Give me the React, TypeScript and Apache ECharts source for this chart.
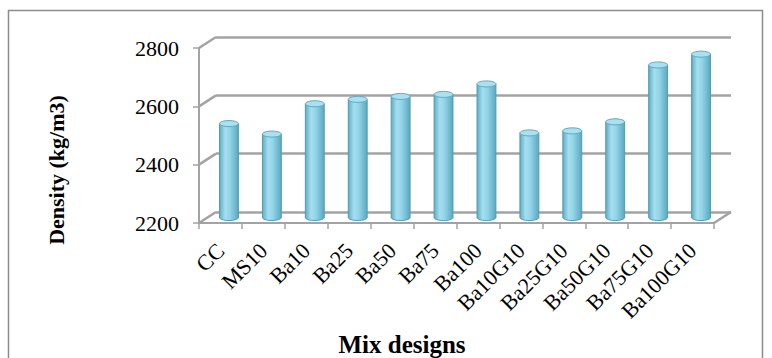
import React, { useEffect, useRef } from "react";
import * as echarts from "echarts";

// Mix designs and their measured densities (kg/m3)
const categories = [
  "CC", "MS10", "Ba10", "Ba25", "Ba50", "Ba75", "Ba100",
  "Ba10G10", "Ba25G10", "Ba50G10", "Ba75G10", "Ba100G10",
];
const densities = [2522, 2486, 2590, 2605, 2615, 2622, 2658, 2490, 2497, 2528, 2723, 2760];
const yTicks = [2200, 2400, 2600, 2800];
const Y_MIN = 2200;
const Y_MAX = 2800;
const Y_STEP = 200;

// Three parallel planes give the pseudo-3D box: back wall, bar depth, front edge
const BACK = { left: 216, top: 37, width: 515, height: 175 };
const FRONT = { left: 199, top: 48, width: 515, height: 175 };
const MID = {
  left: (BACK.left + FRONT.left) / 2,
  top: (BACK.top + FRONT.top) / 2,
  width: 515,
  height: 175,
};
const DX = FRONT.left - BACK.left;
const DY = FRONT.top - BACK.top;

const FONT = "Liberation Serif";
const FRAME = "#a3a3a3";

export default function App() {
  const ref = useRef<HTMLDivElement>(null);

  useEffect(() => {
    if (!ref.current) return;
    const chart = echarts.init(ref.current, undefined, { renderer: "svg" });

    const valueAxisBase = {
      type: "value" as const,
      min: Y_MIN,
      max: Y_MAX,
      interval: Y_STEP,
    };
    const catAxisBase = {
      type: "category" as const,
      data: categories,
      boundaryGap: true,
    };

    chart.setOption({
      animation: false,
      backgroundColor: "#ffffff",
      textStyle: { fontFamily: FONT },
      grid: [
        { ...BACK, containLabel: false },
        { ...MID, containLabel: false },
        { ...FRONT, containLabel: false },
      ],
      xAxis: [
        { ...catAxisBase, gridIndex: 0, show: false },
        { ...catAxisBase, gridIndex: 1, show: false },
        {
          ...catAxisBase,
          gridIndex: 2,
          axisLine: { show: true, lineStyle: { color: FRAME, width: 2 } },
          axisTick: { show: true, length: 6, lineStyle: { color: FRAME, width: 1.5 } },
          splitLine: { show: false },
          axisLabel: {
            interval: 0,
            rotate: 45,
            margin: 24,
            fontFamily: FONT,
            fontSize: 22,
            color: "#000",
          },
        },
      ],
      yAxis: [
        {
          ...valueAxisBase,
          gridIndex: 0,
          axisLine: { show: false },
          axisTick: { show: false },
          axisLabel: { show: false },
          splitLine: { show: true, lineStyle: { color: FRAME, width: 2.5 } },
        },
        {
          ...valueAxisBase,
          gridIndex: 1,
          show: false,
          splitLine: { show: false },
        },
        {
          ...valueAxisBase,
          gridIndex: 2,
          axisLine: { show: true, lineStyle: { color: FRAME, width: 2 } },
          axisTick: { show: true, length: 6, lineStyle: { color: FRAME, width: 1.5 } },
          splitLine: { show: false },
          axisLabel: {
            margin: 20,
            fontFamily: FONT,
            fontSize: 22,
            color: "#000",
            formatter: (v: number) => String(v),
          },
        },
      ],
      series: [
        {
          // side wall and floor edges joining the back wall to the front edge
          type: "custom",
          xAxisIndex: 0,
          yAxisIndex: 0,
          data: yTicks.map((v) => [0, v]),
          encode: { x: 0, y: 1 },
          silent: true,
          renderItem: (params: any, api: any) => {
            const v = api.value(1);
            const band = api.size([1, 0])[0];
            const p = api.coord([0, v]);
            const left = p[0] - band / 2;
            const children: any[] = [
              {
                type: "line",
                shape: { x1: left, y1: p[1], x2: left + DX, y2: p[1] + DY },
                style: { stroke: FRAME, lineWidth: 2.5 },
              },
            ];
            if (v === Y_MIN) {
              const pr = api.coord([categories.length - 1, v]);
              const right = pr[0] + band / 2;
              children.push({
                type: "line",
                shape: { x1: right, y1: pr[1], x2: right + DX, y2: pr[1] + DY },
                style: { stroke: FRAME, lineWidth: 2.5 },
              });
            }
            return { type: "group", children };
          },
          z: 1,
        },
        {
          // cylinders at mid depth
          type: "custom",
          xAxisIndex: 1,
          yAxisIndex: 1,
          data: densities.map((v, i) => [i, v]),
          encode: { x: 0, y: 1 },
          renderItem: (params: any, api: any) => {
            const i = api.value(0);
            const v = api.value(1);
            const top = api.coord([i, v]);
            const base = api.coord([i, Y_MIN]);
            const band = api.size([1, 0])[0];
            const rx = band * 0.22;
            const ry = rx * 0.32;
            const cx = top[0];
            const bodyFill = {
              type: "linear",
              x: 0, y: 0, x2: 1, y2: 0,
              colorStops: [
                { offset: 0, color: "#5eaec4" },
                { offset: 0.3, color: "#a6def0" },
                { offset: 0.55, color: "#93d4e8" },
                { offset: 1, color: "#5aa8bf" },
              ],
            };
            return {
              type: "group",
              children: [
                {
                  type: "ellipse",
                  shape: { cx, cy: base[1], rx, ry },
                  style: { fill: bodyFill, stroke: "#4f9db3", lineWidth: 1 },
                },
                {
                  type: "rect",
                  shape: { x: cx - rx, y: top[1], width: rx * 2, height: base[1] - top[1] },
                  style: { fill: bodyFill, stroke: "none" },
                },
                {
                  type: "line",
                  shape: { x1: cx - rx, y1: top[1], x2: cx - rx, y2: base[1] },
                  style: { stroke: "#4f9db3", lineWidth: 1 },
                },
                {
                  type: "line",
                  shape: { x1: cx + rx, y1: top[1], x2: cx + rx, y2: base[1] },
                  style: { stroke: "#4f9db3", lineWidth: 1 },
                },
                {
                  type: "ellipse",
                  shape: { cx, cy: top[1], rx, ry },
                  style: { fill: "#a9e1f0", stroke: "#5ea9be", lineWidth: 1 },
                },
              ],
            };
          },
          z: 3,
        },
      ],
      graphic: [
        {
          type: "rect",
          shape: { x: 8.5, y: 10.5, width: 754, height: 380 },
          style: { fill: "none", stroke: "#8c8c8c", lineWidth: 1.5 },
          silent: true,
        },
        {
          type: "text",
          x: 56,
          y: 170,
          rotation: Math.PI / 2,
          style: {
            text: "Density (kg/m3)",
            fontFamily: FONT,
            fontWeight: "bold",
            fontSize: 22,
            fill: "#000",
            align: "center",
            verticalAlign: "middle",
          },
        },
        {
          type: "text",
          x: 402,
          y: 344,
          style: {
            text: "Mix designs",
            fontFamily: FONT,
            fontWeight: "bold",
            fontSize: 25,
            fill: "#000",
            align: "center",
            verticalAlign: "middle",
          },
        },
      ],
    });

    return () => chart.dispose();
  }, []);

  return (
    <div
      ref={ref}
      style={{ position: "fixed", left: 0, top: 0, width: 772, height: 358 }}
    />
  );
}
